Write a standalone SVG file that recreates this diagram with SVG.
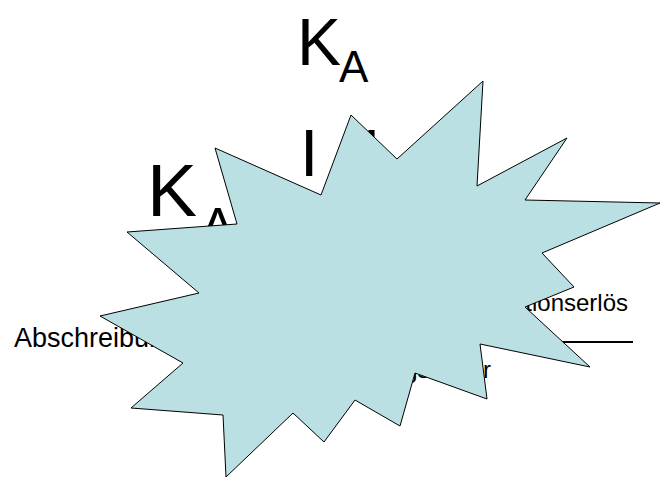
<svg xmlns="http://www.w3.org/2000/svg" width="661" height="484" viewBox="0 0 661 484">
<style>
text{font-family:"Liberation Sans",Arial,sans-serif;fill:#000}
.big{font-size:66px}
.sub{font-size:44px}
.lbl{font-size:24px}
.star{fill:#BBE0E3;stroke:#000;stroke-width:1}
</style>
<g id="formula-top">
<text class="big" x="297" y="65">K</text>
<text class="sub" x="339" y="82">A</text>
</g>
<g id="formula-left">
<text x="147" y="216" style="font-size:75px">K</text>
<text x="201" y="243" style="font-size:50px">A</text>
<text class="big" x="300" y="176">I</text>
<text class="big" x="363" y="176">L</text>
</g>
<g id="labels">
<text class="lbl" x="14" y="347" style="font-size:27px">Abschreibung</text>
<text class="lbl" x="628" y="311" text-anchor="end">Liquidationserlös</text>
<text class="lbl" x="491" y="378" text-anchor="end">Nutzungsdauer</text>
<line x1="410" y1="342" x2="633" y2="342" stroke="#000" stroke-width="2"/>
</g>
<g id="star">
<polygon class="star" points="215,148 237,224 127,232 199,293 100,316 183,363 131,408 223,415 226,477 293,413 324,442 355,400 400,426 415,373 487,399 480,344 590,367 525,307 574,287 542,253 660,203 525,200 567,138 477,186 483,81 397,159 351,115 321,195"/>
</g>
</svg>
